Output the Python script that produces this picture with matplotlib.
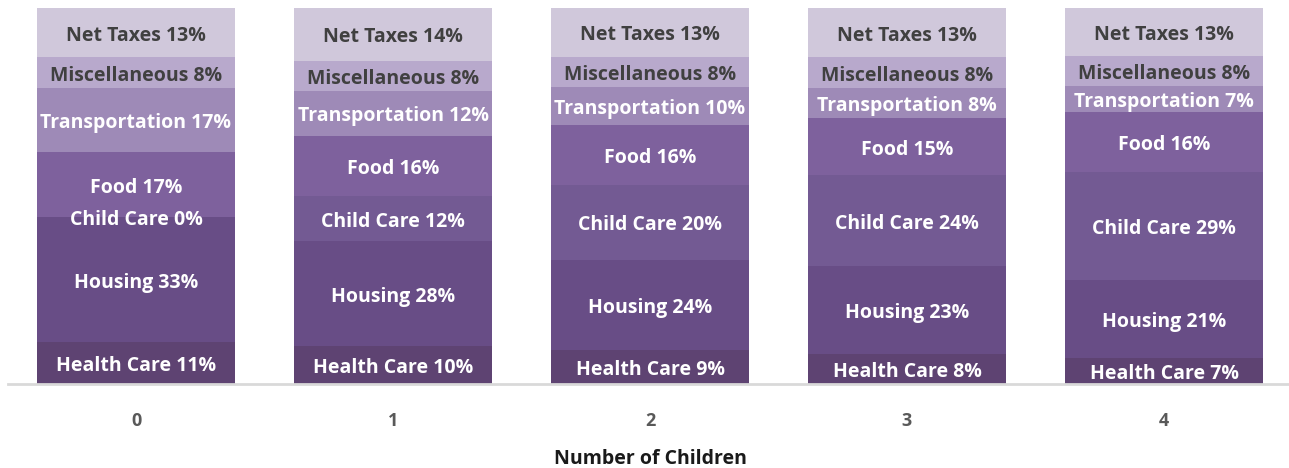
import numpy as np
import matplotlib.pyplot as plt

plt.rcParams['font.family'] = ['Open Sans', 'DejaVu Sans']

children = ['0', '1', '2', '3', '4']
categories = ['Health Care', 'Housing', 'Child Care', 'Food',
              'Transportation', 'Miscellaneous', 'Net Taxes']
health = [11, 10, 9, 8, 7]
housing = [33, 28, 24, 23, 21]
child_care = [0, 12, 20, 24, 29]
food = [17, 16, 16, 15, 16]
transport = [17, 12, 10, 8, 7]
misc = [8, 8, 8, 8, 8]
taxes = [13, 14, 13, 13, 13]

series = [health, housing, child_care, food, transport, misc, taxes]
colors = ['#5e4372', '#684d86', '#735a93', '#7e619d',
          '#9e8ab7', '#b8a9cc', '#d0c8db']
text_colors = ['white'] * 5 + ['#404040'] * 2

vals = np.array(series, dtype=float)
shares = vals / vals.sum(axis=0)

fig = plt.figure(figsize=(12.89, 4.68), dpi=100)
ax = fig.add_axes([7.5 / 1289, 84 / 468, 1285 / 1289, 376 / 468])

x = np.arange(len(children))
bottom = np.zeros(len(children))
for i, name in enumerate(categories):
    ax.bar(x, shares[i], bottom=bottom, width=0.77, color=colors[i], zorder=2)
    for j in range(len(children)):
        ax.text(x[j], bottom[j] + shares[i][j] / 2 - 0.008, f'{name} {series[i][j]}%',
                ha='center', va='center', color=text_colors[i],
                fontsize=14, fontweight='bold', zorder=3)
    bottom += shares[i]

ax.set_xlim(-0.5, 4.5)
ax.set_ylim(0, 1)
ax.set_yticks([])
ax.set_xticks(x)
ax.set_xticklabels(children, fontsize=13, fontweight='bold', color='#595959')
ax.tick_params(axis='x', length=0, pad=20)
for s in ['top', 'right', 'left']:
    ax.spines[s].set_visible(False)
ax.spines['bottom'].set_color('#d9d9d9')
ax.spines['bottom'].set_linewidth(2)
ax.set_xlabel('Number of Children', fontsize=14, fontweight='bold',
              color='#1a1a1a', labelpad=14)

fig.savefig('out.png', dpi=100)
